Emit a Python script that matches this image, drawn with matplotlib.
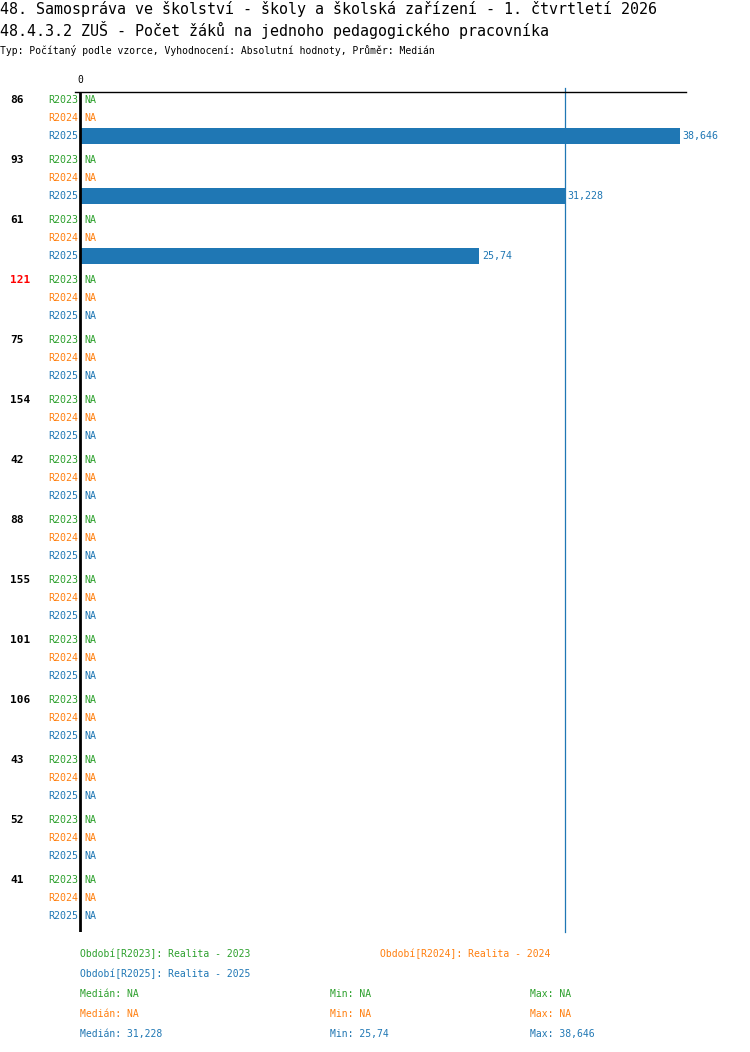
import matplotlib
matplotlib.use("Agg")
import matplotlib.pyplot as plt
import matplotlib.transforms as mtransforms
import numpy as np

plt.rcParams['font.family'] = ['DejaVu Sans Mono', 'DejaVu Sans']

groups = ["86", "93", "61", "121", "75", "154", "42", "88", "155", "101", "106", "43", "52", "41"]
highlight = ["121"]
series = ["R2023", "R2024", "R2025"]
colors = ["#2ca02c", "#ff7f0e", "#1f77b4"]
values = {
    "R2023": [None] * 14,
    "R2024": [None] * 14,
    "R2025": [38.646, 31.228, 25.74] + [None] * 11,
}
labels_fmt = {38.646: "38,646", 31.228: "31,228", 25.74: "25,74"}
median_2025 = 31.228
stats = [
    ("NA", "NA", "NA"),
    ("NA", "NA", "NA"),
    ("31,228", "25,74", "38,646"),
]
legend_names = ["Období[R2023]: Realita - 2023", "Období[R2024]: Realita - 2024",
                "Období[R2025]: Realita - 2025"]

W, H = 750, 1052
fig = plt.figure(figsize=(W / 100, H / 100), dpi=100)

def fx(px):
    return px / W

def fy(py):
    return 1 - py / H

ax_l, ax_r, ax_t, ax_b = 75, 686, 92, 932
ax = fig.add_axes([fx(ax_l), fy(ax_b), fx(ax_r - ax_l), (ax_b - ax_t) / H])

scale = 15.515
ax.set_xlim(-(80 - ax_l) / scale, (ax_r - 80) / scale)
row_step = 0.3
ax.set_ylim(13 + 0.6 + 16 / 60, -8 / 60)

for s in ["left", "right", "bottom"]:
    ax.spines[s].set_visible(False)
ax.spines["top"].set_linewidth(1)
ax.spines["top"].set_color("black")
ax.set_yticks([])
ax.xaxis.set_ticks_position("top")
ax.set_xticks([0])
ax.set_xticklabels(["0"], fontsize=7)
ax.tick_params(axis="x", length=0, pad=5)

ax.axvline(0, color="black", lw=2, zorder=3)
ax.plot([median_2025, median_2025], [13 + 0.6 + 16 / 60, -12 / 60], color="#1f77b4",
        lw=0.9, clip_on=False, zorder=2)

tr = mtransforms.blended_transform_factory(fig.transFigure, ax.transData)

for i, g in enumerate(groups):
    y0 = i
    ax.text(fx(10), y0, g, transform=tr, fontsize=8, fontweight="bold",
            color="red" if g in highlight else "black", va="center", ha="left")
    for j, s in enumerate(series):
        y = y0 + j * row_step
        ax.text(fx(78), y, s, transform=tr, fontsize=7.2, color=colors[j],
                va="center", ha="right")
        v = values[s][i]
        if v is None:
            ax.text(0.25, y, "NA", fontsize=7.2, color=colors[j], va="center", ha="left")
        else:
            ax.barh(y, v, height=16 / 60, color=colors[j], zorder=1)
            ax.text(v + 0.2, y, labels_fmt[v], fontsize=7.2, color=colors[j],
                    va="center", ha="left")

# titles
fig.text(fx(0), fy(9), "48. Samospráva ve školství - školy a školská zařízení - 1. čtvrtletí 2026",
         fontsize=10.8, va="center", ha="left")
fig.text(fx(0), fy(30), "48.4.3.2 ZUŠ - Počet žáků na jednoho pedagogického pracovníka",
         fontsize=10.8, va="center", ha="left")
fig.text(fx(0), fy(50), "Typ: Počítaný podle vzorce, Vyhodnocení: Absolutní hodnoty, Průměr: Medián",
         fontsize=7, va="center", ha="left")

# legend
fig.text(fx(80), fy(954), legend_names[0], fontsize=7, color=colors[0], va="center")
fig.text(fx(380), fy(954), legend_names[1], fontsize=7, color=colors[1], va="center")
fig.text(fx(80), fy(974), legend_names[2], fontsize=7, color=colors[2], va="center")
for k, (med, mn, mx) in enumerate(stats):
    yy = fy(994 + 20 * k)
    fig.text(fx(80), yy, "Medián: " + med, fontsize=7, color=colors[k], va="center")
    fig.text(fx(330), yy, "Min: " + mn, fontsize=7, color=colors[k], va="center")
    fig.text(fx(530), yy, "Max: " + mx, fontsize=7, color=colors[k], va="center")

fig.savefig("out.png", dpi=100)
